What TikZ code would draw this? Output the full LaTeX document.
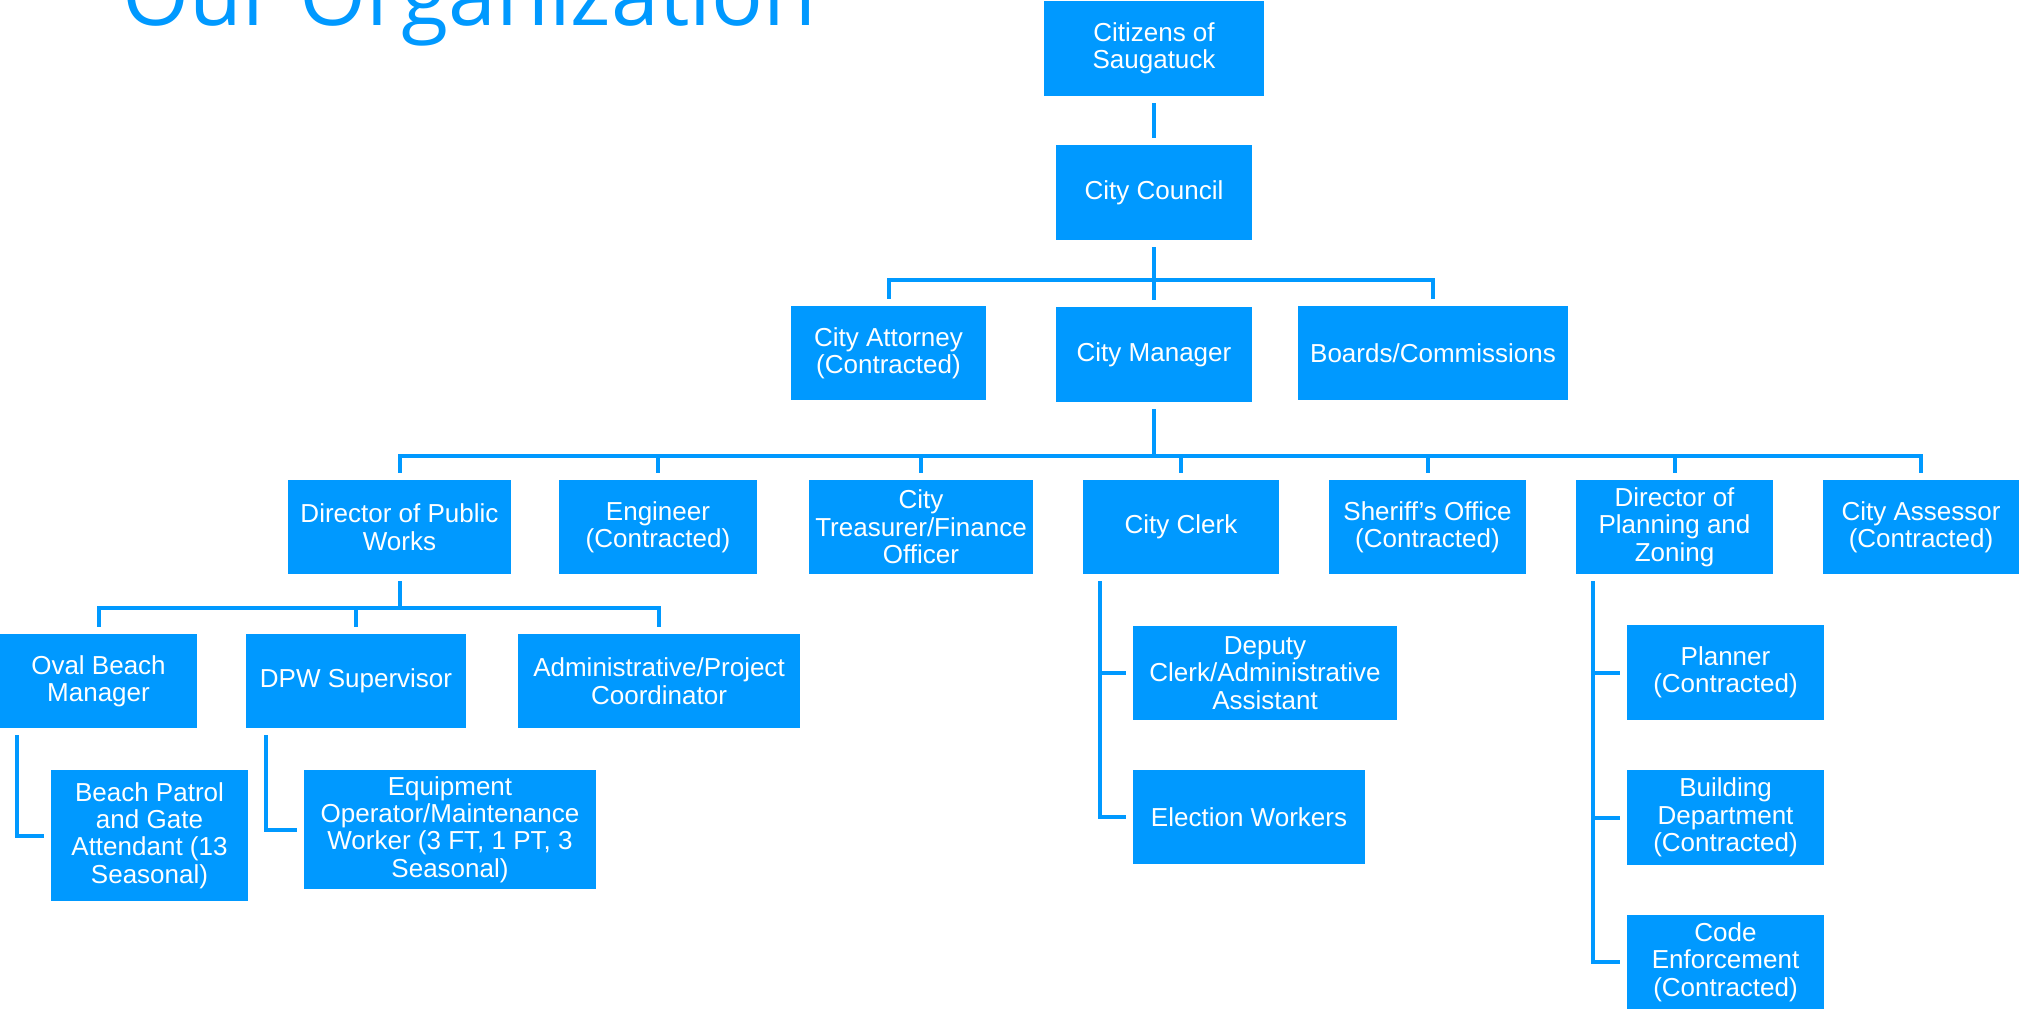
\documentclass[tikz,border=0pt]{standalone}
\usepackage{fontspec}
\setmainfont{Liberation Sans}
\newfontfamily\titlefont{Open Sans}
\usepackage{tikz}
\usetikzlibrary{positioning}

\definecolor{orgblue}{RGB}{0,153,255}
\newlength\px
\setlength\px{0.2mm}
\newcommand\gap{1.4mm}

\tikzset{
	orgbox/.style={rectangle, fill=orgblue, text=white, align=center, inner sep=0pt,
		font=\fontsize{14.8}{15.6}\selectfont},
	link/.style={draw=orgblue, line width=0.8mm},
	titletext/.style={text=orgblue, inner sep=0pt, font=\titlefont\fontsize{49}{56}\selectfont}
}

\begin{document}
\begin{tikzpicture}[x=0.2mm, y=-0.2mm]
				\useasboundingbox (0,0) rectangle (2019,1009);
				\clip (0,0) rectangle (2019,1009);
				\node[titletext, anchor=base west] (title) at (122,26) {Our Organization};
				% top of the chart
				\node[orgbox, minimum width=220\px, minimum height=95\px] (cit) at (1154,48.5) {Citizens of\\Saugatuck};
				\node[orgbox, minimum width=196\px, minimum height=95\px] (council) at (1154,192.5) {City Council};
				\node[orgbox, minimum width=195\px, minimum height=94\px] (attorney) at (888.5,353) {City Attorney\\(Contracted)};
				\node[orgbox, minimum width=196\px, minimum height=95\px] (manager) at (1154,354.5) {City Manager};
				\node[orgbox, minimum width=270\px, minimum height=94\px] (boards) at (1433,353) {Boards/Commissions};
				% departments
				\node[orgbox, minimum width=223\px, minimum height=94\px] (dpw) at (399.5,527) {Director of Public\\Works};
				\node[orgbox, minimum width=198\px, minimum height=94\px] (eng) at (658,527) {Engineer\\(Contracted)};
				\node[orgbox, minimum width=224\px, minimum height=94\px] (treas) at (921,527) {City\\Treasurer/Finance\\Officer};
				\node[orgbox, minimum width=196\px, minimum height=94\px] (clerk) at (1181,527) {City Clerk};
				\node[orgbox, minimum width=197\px, minimum height=94\px] (sheriff) at (1427.5,527) {Sheriff’s Office\\(Contracted)};
				\node[orgbox, minimum width=197\px, minimum height=94\px] (planning) at (1674.5,527) {Director of\\Planning and\\Zoning};
				\node[orgbox, minimum width=196\px, minimum height=94\px] (assessor) at (1921,527) {City Assessor\\(Contracted)};
				% public works
				\node[orgbox, minimum width=197\px, minimum height=94\px] (oval) at (98.5,681) {Oval Beach\\Manager};
				\node[orgbox, minimum width=220\px, minimum height=94\px] (dpwsup) at (356,681) {DPW Supervisor};
				\node[orgbox, minimum width=282\px, minimum height=94\px] (admin) at (659,681) {Administrative/Project\\Coordinator};
				\node[orgbox, minimum width=197\px, minimum height=131\px] (beach) at (149.5,835.5) {Beach Patrol\\and Gate\\Attendant (13\\Seasonal)};
				\node[orgbox, minimum width=292\px, minimum height=119\px] (equip) at (450,829.5) {Equipment\\Operator/Maintenance\\Worker (3 FT, 1 PT, 3\\Seasonal)};
				% clerk
				\node[orgbox, minimum width=264\px, minimum height=94\px] (deputy) at (1265,673) {Deputy\\Clerk/Administrative\\Assistant};
				\node[orgbox, minimum width=232\px, minimum height=94\px] (election) at (1249,817) {Election Workers};
				% planning
				\node[orgbox, minimum width=197\px, minimum height=95\px] (planner) at (1725.5,672.5) {Planner\\(Contracted)};
				\node[orgbox, minimum width=197\px, minimum height=95\px] (building) at (1725.5,817.5) {Building\\Department\\(Contracted)};
				\node[orgbox, minimum width=197\px, minimum height=94\px] (code) at (1725.5,962) {Code\\Enforcement\\(Contracted)};

				\coordinate (bus1) at (1154,280);
				\coordinate (bus2) at (1154,456);
				\coordinate (bus3) at (399.5,608);
				\coordinate (clerkspine) at ([xshift=3.4mm]clerk.south west);
				\coordinate (planspine) at ([xshift=3.4mm]planning.south west);

				\draw[link] ([yshift=-\gap]cit.south) -- ([yshift=\gap]council.north);
				\draw[link] ([yshift=-\gap]council.south) -- ([yshift=\gap]manager.north);
				\draw[link] ([yshift=\gap]attorney.north) |- (bus1) -| ([yshift=\gap]boards.north);
				\draw[link] ([yshift=-\gap]manager.south) -- (bus2);
				\draw[link] ([yshift=\gap]dpw.north) |- (bus2) -| ([yshift=\gap]assessor.north);
				\foreach \n in {eng,treas,clerk,sheriff,planning}
					\draw[link] ([yshift=\gap]\n.north) -- (\n.north |- bus2);
				\draw[link] ([yshift=-\gap]dpw.south) -- (bus3);
				\draw[link] ([yshift=\gap]oval.north) |- (bus3) -| ([yshift=\gap]admin.north);
				\draw[link] ([yshift=\gap]dpwsup.north) -- (dpwsup.north |- bus3);
				\draw[link] ([xshift=3.4mm,yshift=-\gap]oval.south west) |- ([xshift=-\gap]beach.west);
				\draw[link] ([xshift=4mm,yshift=-\gap]dpwsup.south west) |- ([xshift=-\gap]equip.west);
				\draw[link] ([yshift=-\gap]clerkspine) |- ([xshift=-\gap]election.west);
				\draw[link] ([xshift=-\gap]deputy.west) -- (clerkspine |- deputy.west);
				\draw[link] ([yshift=-\gap]planspine) |- ([xshift=-\gap]code.west);
				\foreach \n in {planner,building}
					\draw[link] ([xshift=-\gap]\n.west) -- (planspine |- \n.west);
			\end{tikzpicture}
\end{document}
